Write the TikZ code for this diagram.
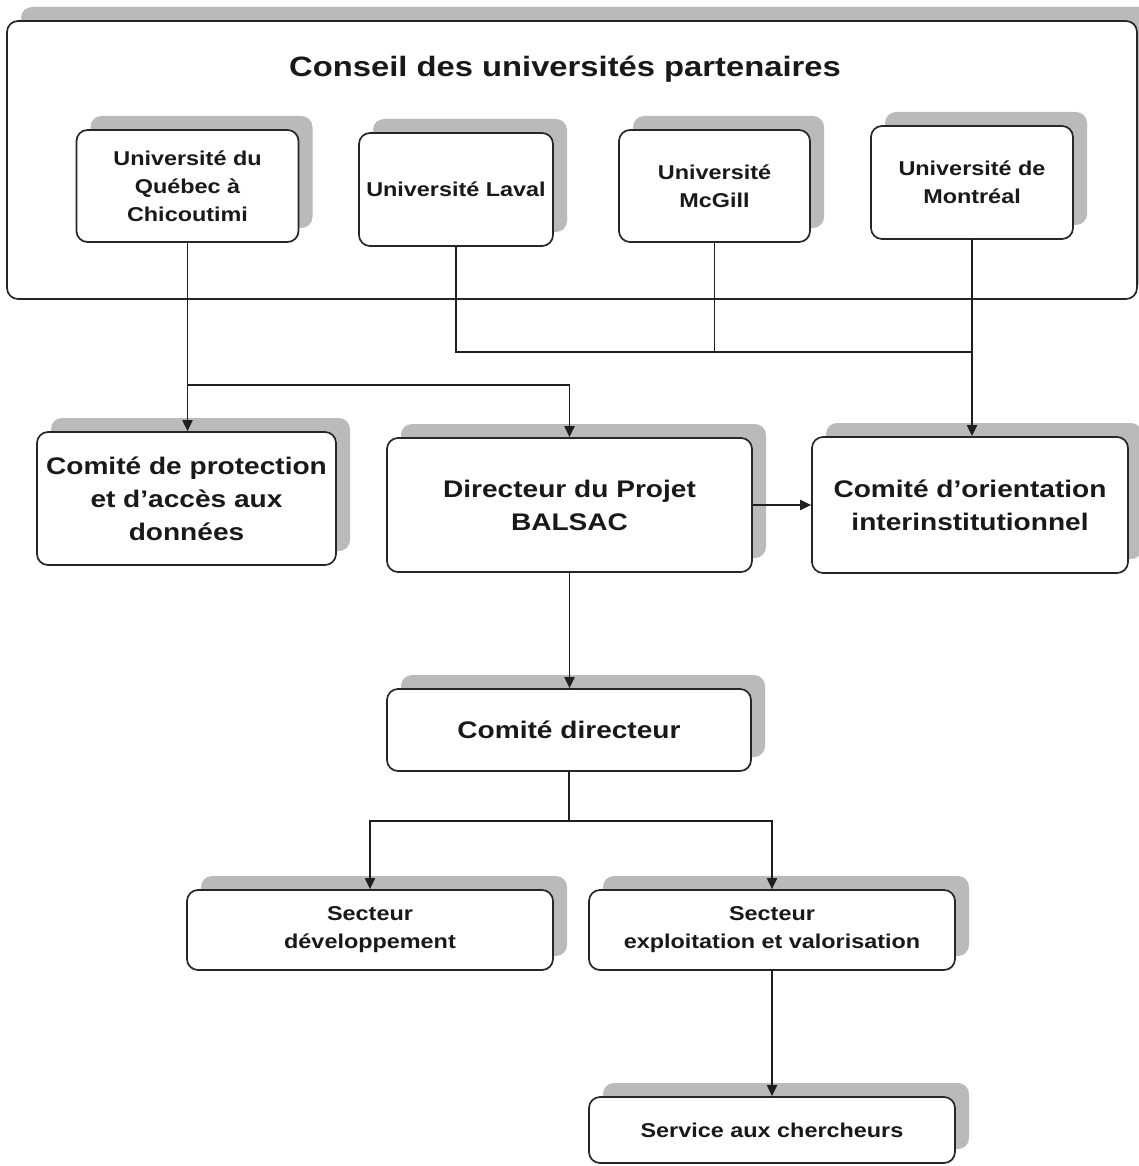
\documentclass[tikz,border=0pt]{standalone}
\usepackage{fontspec}
\setmainfont[FakeStretch=1.17]{Liberation Sans}
\usetikzlibrary{shadows,arrows.meta}
\begin{document}
\begin{tikzpicture}[x=1pt,y=-1pt,
  box/.style={draw=black!85, line width=1.7pt, rounded corners=11pt, fill=white,
    drop shadow={shadow xshift=14pt, shadow yshift=14pt, fill=black!27, opacity=1},
    inner sep=0pt, align=center, text=black!90},
  bigtxt/.style={font=\bfseries\fontsize{24}{33}\selectfont},
  smtxt/.style={font=\bfseries\fontsize{20}{28}\selectfont},
  conn/.style={draw=black!88, line width=1.9pt},
  arr/.style={conn, -{Triangle[length=11pt,width=10pt]}}
]
\useasboundingbox (0,0) rectangle (1138,1166);

% outer council box
\node[box, minimum width=1130pt, minimum height=278pt] (conseil) at (572,160) {};
\node[font=\bfseries\fontsize{28}{34}\selectfont, text=black!90] (title) at (565,69) {Conseil des universités partenaires};

% universities
\node[box, smtxt, minimum width=222pt, minimum height=112pt] (u1) at (187.5,186) {Université du\\Québec à\\Chicoutimi};
\node[box, smtxt, minimum width=194pt, minimum height=113pt] (laval) at (456,189.5) {Université Laval};
\node[box, smtxt, minimum width=191pt, minimum height=112pt] (mcgill) at (714.5,186) {Université\\McGill};
\node[box, smtxt, minimum width=202pt, minimum height=113pt] (mont) at (972,182.5) {Université de\\Montréal};

% committees
\node[box, bigtxt, minimum width=299pt, minimum height=133pt] (prot) at (186.5,498.5) {Comité de protection\\et d’accès aux\\données};
\node[box, bigtxt, minimum width=365pt, minimum height=134pt] (dir) at (569.5,505) {Directeur du Projet\\BALSAC};
\node[box, bigtxt, minimum width=316pt, minimum height=136pt] (cori) at (970,505) {Comité d’orientation\\interinstitutionnel};
\node[box, bigtxt, minimum width=364pt, minimum height=82pt] (cdir) at (569,730) {Comité directeur};

% sectors
\node[box, smtxt, minimum width=366pt, minimum height=80pt] (sdev) at (370,930) {Secteur\\développement};
\node[box, smtxt, minimum width=366pt, minimum height=80pt] (sexp) at (772,930) {Secteur\\exploitation et valorisation};
\node[box, smtxt, minimum width=366pt, minimum height=66pt] (serv) at (772,1130) {Service aux chercheurs};

% connectors
\coordinate (j1) at (187.5,385);
\coordinate (j2) at (972,352);
\coordinate (j3) at (569,821);

\draw[arr] (u1.south) -- (u1.south |- prot.north);
\draw[arr] (j1) -| (dir.north);
\draw[conn] (laval.south) |- (j2);
\draw[conn] (mcgill.south) -- (mcgill.south |- j2);
\draw[arr] (mont.south) -- (mont.south |- cori.north);
\draw[arr] (dir.east) -- (cori.west);
\draw[arr] (dir.south) -- (dir.south |- cdir.north);
\draw[conn] (cdir.south) -- (j3);
\draw[arr] (j3) -| (sdev.north);
\draw[arr] (j3) -| (sexp.north);
\draw[arr] (sexp.south) -- (serv.north);
\end{tikzpicture}
\end{document}
